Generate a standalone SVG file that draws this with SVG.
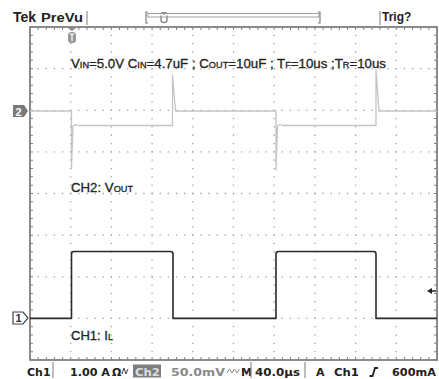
<svg xmlns="http://www.w3.org/2000/svg" width="439" height="379" viewBox="0 0 439 379">
<style>
.frame{fill:none;stroke:#808080;stroke-width:1.8}
.vdots{stroke:#a0a0a0;stroke-width:1.3;stroke-dasharray:1.3 7.025;stroke-dashoffset:0.65}
.hdots{stroke:#a0a0a0;stroke-width:1.3;stroke-dasharray:1.3 6.84;stroke-dashoffset:0.65}
.tickh{stroke:#808080;stroke-width:3;stroke-dasharray:1 7.14;stroke-dashoffset:0.5}
.tickv{stroke:#808080;stroke-width:3;stroke-dasharray:1 7.325;stroke-dashoffset:0.5}
.sep{stroke:#909090;stroke-width:1.2}
.hdr{font-family:"Liberation Sans",Arial,sans-serif;font-weight:bold;fill:#222}
.ann{font-family:"Liberation Sans",Arial,sans-serif;fill:#222;stroke:#222;stroke-width:0.3}
.bar{font-family:"DejaVu Sans",sans-serif;font-weight:bold;font-size:11px;fill:#222}
.ch1{fill:none;stroke:#2a2a2a;stroke-width:1.6;stroke-linejoin:round}
.ch2{fill:none;stroke:#c4c4c4;stroke-width:1.3;stroke-linejoin:round}
</style>
<rect width="439" height="379" fill="#ffffff"/>

<g id="header">
  <text class="hdr" x="13" y="21.5" font-size="14">Tek</text>
  <text class="hdr" x="41" y="21.5" font-size="12" textLength="42" lengthAdjust="spacingAndGlyphs">PreVu</text>
  <line class="sep" x1="87" y1="11" x2="87" y2="25"/>
  <g id="record-bar">
    <path d="M148,12 H146 V23 H148" fill="none" stroke="#808080" stroke-width="1.2"/>
    <rect x="148" y="13.5" width="171" height="3.5" fill="#fff" stroke="#a0a0a0" stroke-width="1"/>
    <path d="M318,12 H320 V23 H318" fill="none" stroke="#808080" stroke-width="1.2"/>
    <path d="M160.5,12 L167.5,12 L164,15 Z" fill="#909090"/>
    <path d="M161,15.5 V20 Q161,22.5 164,22.5 Q167,22.5 167,20 V15.5" fill="none" stroke="#909090" stroke-width="1.5"/>
  </g>
  <line class="sep" x1="380" y1="11" x2="380" y2="25"/>
  <text class="hdr" x="382" y="20.5" font-size="12">Trig?</text>
</g>

<g id="graticule">
  <g id="grid-dots">
    <line class="vdots" x1="70.7" y1="27" x2="70.7" y2="360"/>
    <line class="vdots" x1="111.4" y1="27" x2="111.4" y2="360"/>
    <line class="vdots" x1="152.1" y1="27" x2="152.1" y2="360"/>
    <line class="vdots" x1="192.8" y1="27" x2="192.8" y2="360"/>
    <line class="vdots" x1="233.5" y1="27" x2="233.5" y2="360"/>
    <line class="vdots" x1="274.2" y1="27" x2="274.2" y2="360"/>
    <line class="vdots" x1="314.9" y1="27" x2="314.9" y2="360"/>
    <line class="vdots" x1="355.6" y1="27" x2="355.6" y2="360"/>
    <line class="vdots" x1="396.3" y1="27" x2="396.3" y2="360"/>
    <line class="hdots" x1="30" y1="68.6" x2="437" y2="68.6"/>
    <line class="hdots" x1="30" y1="110.3" x2="437" y2="110.3"/>
    <line class="hdots" x1="30" y1="151.9" x2="437" y2="151.9"/>
    <line class="hdots" x1="30" y1="193.5" x2="437" y2="193.5"/>
    <line class="hdots" x1="30" y1="235.1" x2="437" y2="235.1"/>
    <line class="hdots" x1="30" y1="276.8" x2="437" y2="276.8"/>
    <line class="hdots" x1="30" y1="318.4" x2="437" y2="318.4"/>
  </g>
  <g id="border-ticks">
    <line class="tickh" x1="30" y1="28.5" x2="437" y2="28.5"/>
    <line class="tickh" x1="30" y1="358.5" x2="437" y2="358.5"/>
    <line class="tickv" x1="31.5" y1="27" x2="31.5" y2="360"/>
    <line class="tickv" x1="435.5" y1="27" x2="435.5" y2="360"/>
  </g>
  <rect class="frame" x="30" y="27" width="407" height="333"/>
</g>

<g id="markers">
  <g id="trig-pos">
    <path d="M68,28 L76,28 L72,31 Z" fill="#8a8a8a"/>
    <rect x="68" y="32" width="8" height="11" rx="3" fill="#9a9a9a"/>
    <line x1="72" y1="34" x2="72" y2="41" stroke="#eeeeee" stroke-width="1.4"/>
    <line x1="69.5" y1="34" x2="74.5" y2="34" stroke="#eeeeee" stroke-width="1.2"/>
  </g>
  <g id="ch2-marker">
    <path d="M13,105 H24 L28,111 L24,117 H13 Z" fill="#7a7a7a"/>
    <text x="18.5" y="115.5" text-anchor="middle" font-family="Liberation Sans,Arial,sans-serif" font-weight="bold" font-size="11" fill="#ffffff">2</text>
  </g>
  <g id="ch1-marker">
    <path d="M13,312 H23 L28,318 L23,324 H13 Z" fill="#ffffff" stroke="#444" stroke-width="1.2"/>
    <text x="18.5" y="322" text-anchor="middle" font-family="Liberation Sans,Arial,sans-serif" font-weight="bold" font-size="11" fill="#333">1</text>
  </g>
  <g id="trig-level">
    <path d="M427,291 L432,288 L432,294 Z" fill="#222"/>
    <line x1="431" y1="291" x2="436" y2="291" stroke="#222" stroke-width="1.5"/>
  </g>
</g>

<g id="waveforms">
  <path id="ch2-trace" class="ch2" d="M30,111 H71.5 V168 L73,126 L76,124.5 L79,125.5 H172.5 V75 L175.5,111 H276 V170 L277.5,126 L280,124.5 L283,125.5 H376 V70 L379,111 H437"/>
  <path id="ch1-trace" class="ch1" d="M30,318.4 H71.5 V254 Q71.5,251.5 74,251.5 H170.5 Q173,251.5 173,254 V318.4 H276 V254 Q276,251.5 278.5,251.5 H373.5 Q376,251.5 376,254 V318.4 H437"/>
</g>

<g id="annotations">
  <text class="ann" x="71" y="68" font-size="13" textLength="315" lengthAdjust="spacingAndGlyphs">V<tspan font-size="9">IN</tspan>=5.0V C<tspan font-size="9">IN</tspan>=4.7uF ; C<tspan font-size="9">OUT</tspan>=10uF ; T<tspan font-size="9">F</tspan>=10us ;T<tspan font-size="9">R</tspan>=10us</text>
  <text class="ann" x="71" y="191.7" font-size="13" textLength="62" lengthAdjust="spacingAndGlyphs">CH2: V<tspan font-size="9">OUT</tspan></text>
  <text class="ann" x="71" y="340" font-size="13" textLength="42" lengthAdjust="spacingAndGlyphs">CH1: I<tspan font-size="9">L</tspan></text>
</g>

<g id="status-bar">
  <text class="bar" x="27" y="376">Ch1</text>
  <line class="sep" x1="53" y1="362" x2="53" y2="378"/>
  <text class="bar" x="70" y="376" textLength="40" lengthAdjust="spacingAndGlyphs">1.00 A</text>
  <text class="bar" x="112" y="376">Ω</text>
  <path d="M122,374 L124,368 L126,374 L128,369" fill="none" stroke="#444" stroke-width="1"/>
  <rect x="133" y="364.5" width="28" height="13" fill="#7d7d7d"/>
  <text class="bar" x="135" y="375.5" style="fill:#dddddd" textLength="25" lengthAdjust="spacingAndGlyphs">Ch2</text>
  <text class="bar" x="171" y="376" style="fill:#8a8a8a" textLength="54" lengthAdjust="spacingAndGlyphs">50.0mV</text>
  <path d="M227,373 L229.5,369 L232,373 L234.5,369 L237,373 L239.5,369" fill="none" stroke="#8a8a8a" stroke-width="1"/>
  <text class="bar" x="241" y="376">M</text>
  <line class="sep" x1="251" y1="362" x2="251" y2="378"/>
  <text class="bar" x="255" y="376" textLength="45" lengthAdjust="spacingAndGlyphs">40.0µs</text>
  <line class="sep" x1="305" y1="362" x2="305" y2="378"/>
  <text class="bar" x="316" y="376">A</text>
  <text class="bar" x="334" y="376" textLength="25" lengthAdjust="spacingAndGlyphs">Ch1</text>
  <path d="M369.5,376 H372.5 L375,368 H378" fill="none" stroke="#222" stroke-width="1.8"/>
  <text class="bar" x="392" y="376" textLength="44" lengthAdjust="spacingAndGlyphs">600mA</text>
</g>
</svg>
